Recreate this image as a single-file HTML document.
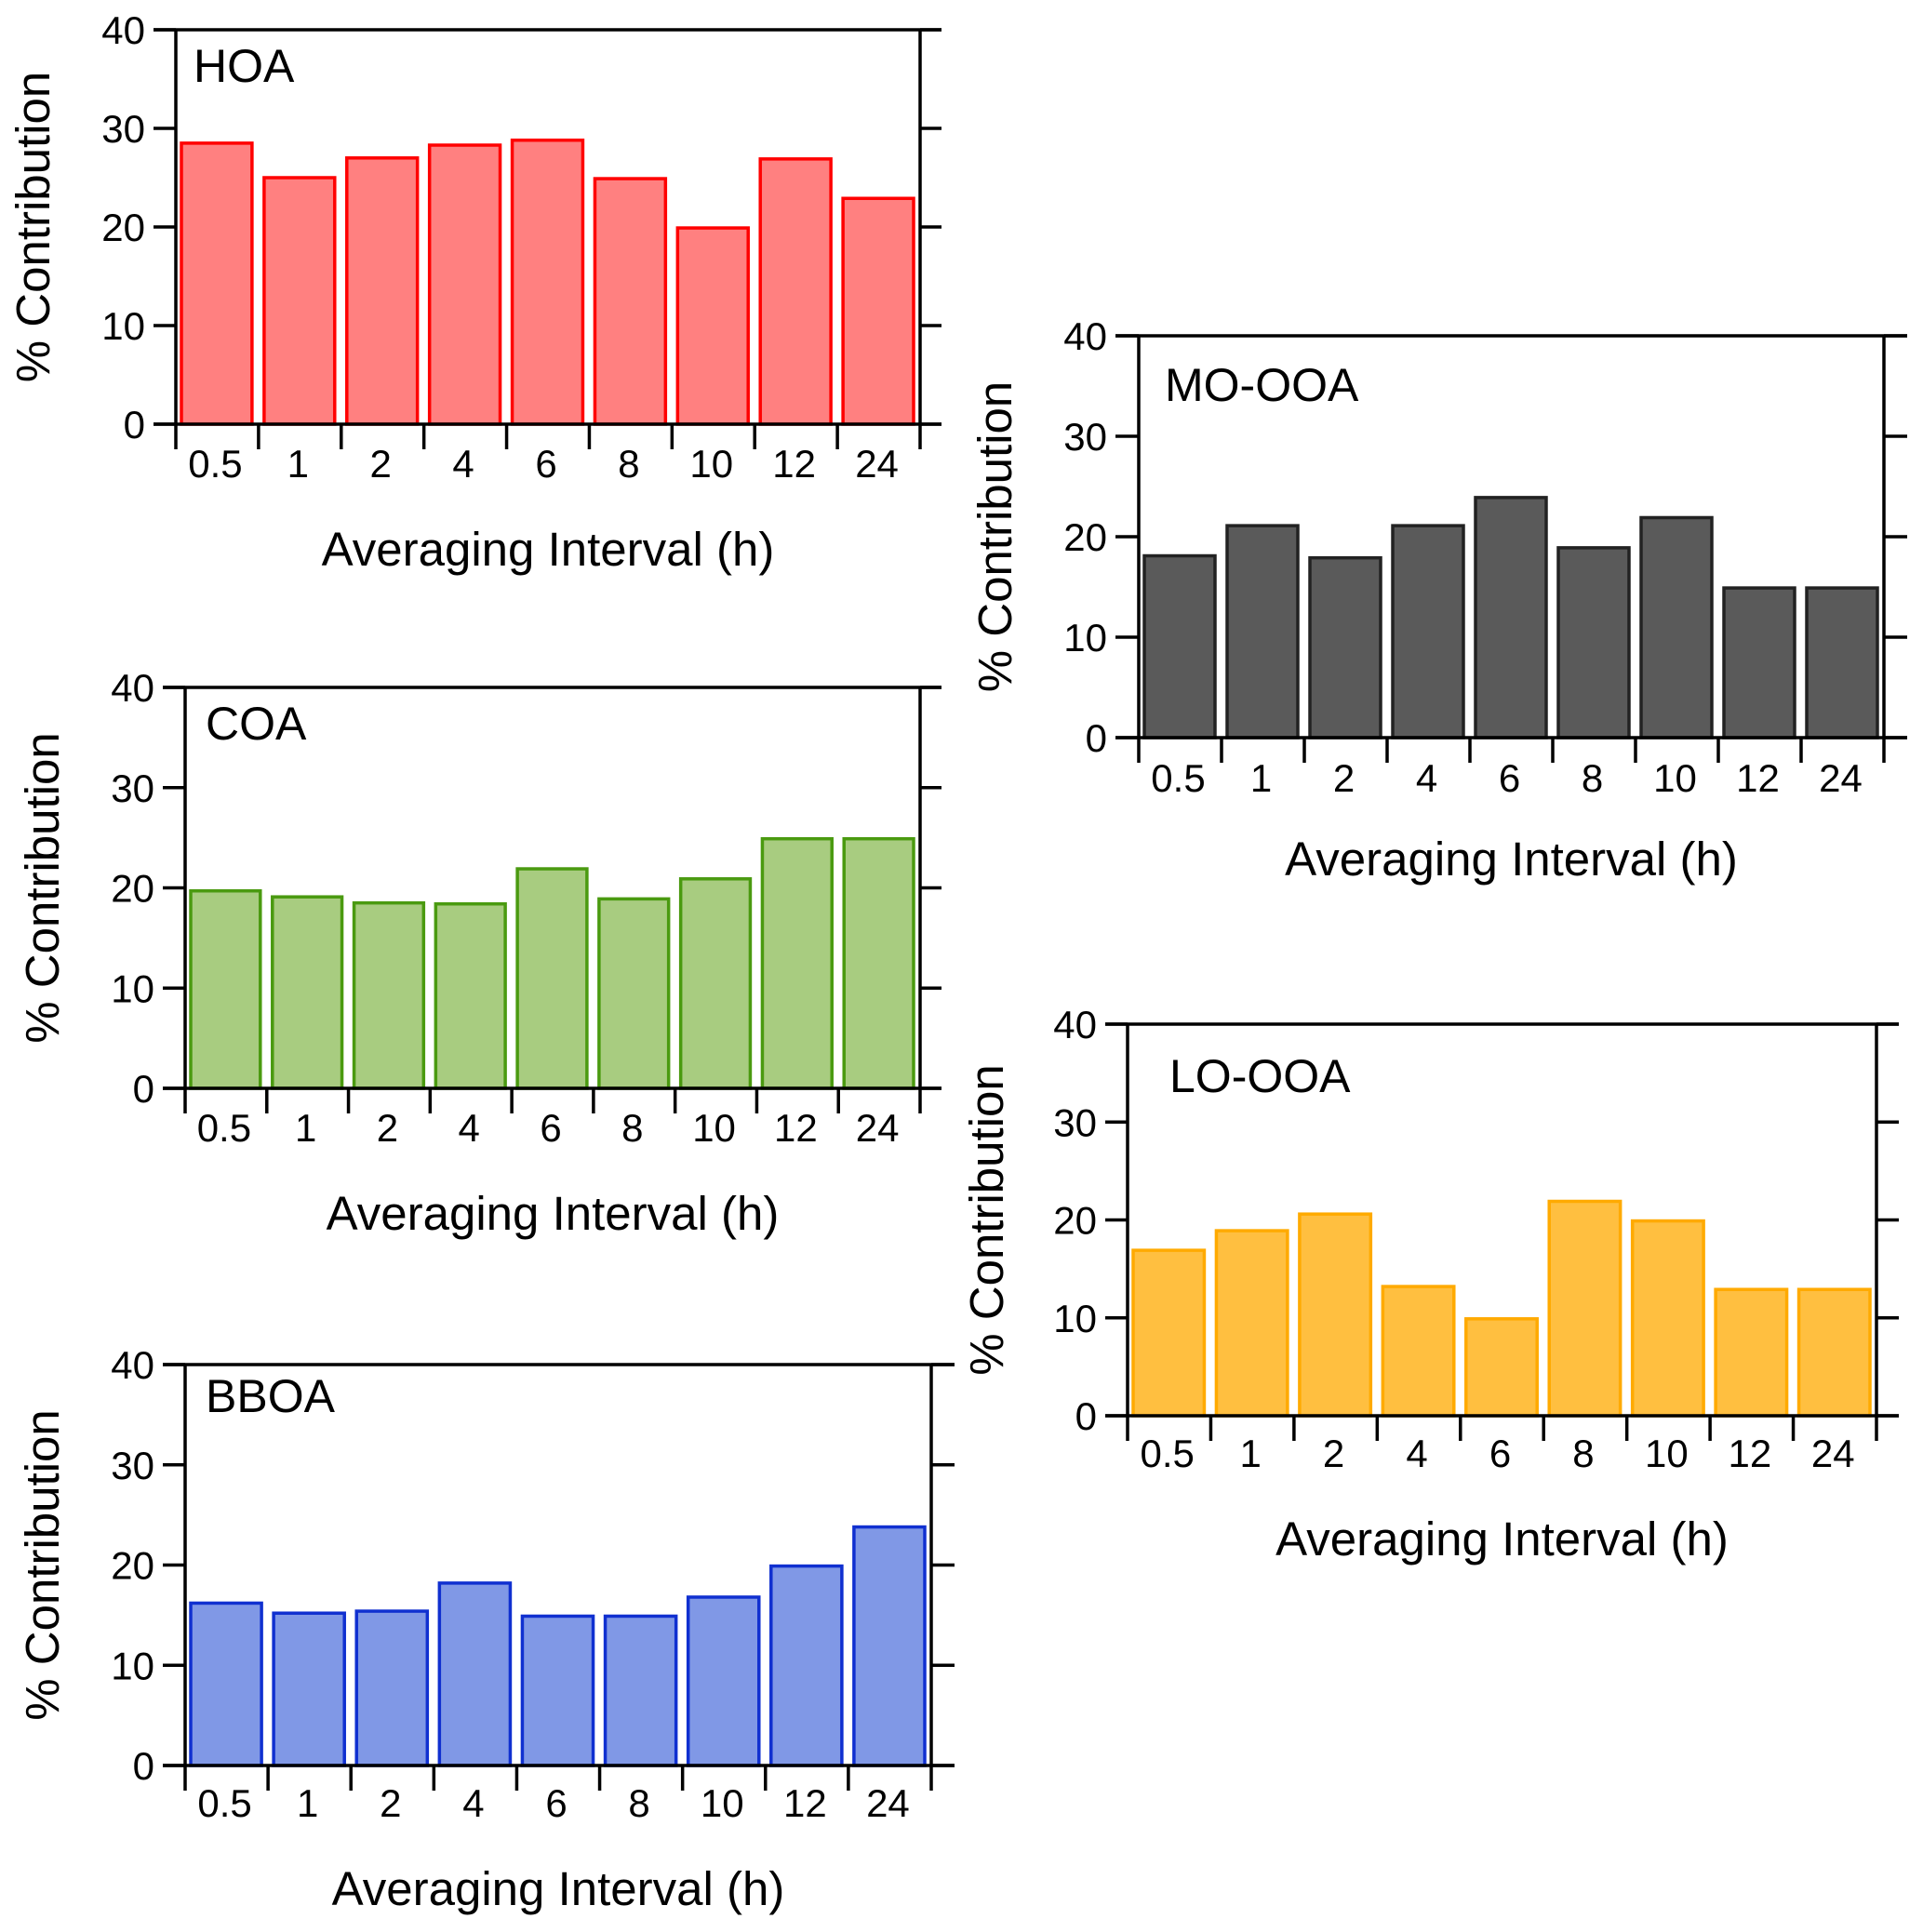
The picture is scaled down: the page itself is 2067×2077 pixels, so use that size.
<!DOCTYPE html>
<html><head><meta charset="utf-8">
<style>
html,body{margin:0;padding:0;background:#fff;}
svg{display:block;font-family:"Liberation Sans",Arial,sans-serif;}
</style></head>
<body>
<svg id="fig" width="2067" height="2077" viewBox="0 0 2067 2077" xmlns="http://www.w3.org/2000/svg"></svg>
<script>
const categories = ["0.5","1","2","4","6","8","10","12","24"];
const yTicks = [0,10,20,30,40];
const hoaValues = [28.5,25.0,27.0,28.3,28.8,24.9,19.9,26.9,22.9];
const mooaValues = [18.1,21.1,17.9,21.1,23.9,18.9,21.9,14.9,14.9];
const coaValues = [19.7,19.1,18.5,18.4,21.9,18.9,20.9,24.9,24.9];
const looaValues = [16.9,18.9,20.6,13.2,9.9,21.9,19.9,12.9,12.9];
const bboaValues = [16.2,15.2,15.4,18.2,14.9,14.9,16.8,19.9,23.8];

const NS = "http://www.w3.org/2000/svg";
const svg = document.getElementById('fig');
function mk(tag, attrs, parent){
  const e = document.createElementNS(NS, tag);
  for (const k in attrs) e.setAttribute(k, attrs[k]);
  (parent||svg).appendChild(e);
  return e;
}

const panels = [
  {name:"hoa", label:"HOA", values:hoaValues, fill:"#ff8080", stroke:"#ff0000",
   L:189, R:989, T:32, B:456, tickL:165, tickR:1012, lx:208, ly:70, yt:36, tickY:498, titleY:590},
  {name:"mo-ooa", label:"MO-OOA", values:mooaValues, fill:"#5a5a5a", stroke:"#222222",
   L:1224, R:2025, T:361, B:793, tickL:1199, tickR:2050, lx:1252, ly:413, yt:1070, tickY:836, titleY:923},
  {name:"coa", label:"COA", values:coaValues, fill:"#a8cc80", stroke:"#4a9a10",
   L:199, R:989, T:739, B:1170, tickL:175, tickR:1012, lx:221, ly:777, yt:46, tickY:1212, titleY:1304},
  {name:"lo-ooa", label:"LO-OOA", values:looaValues, fill:"#ffbf40", stroke:"#ffaa00",
   L:1212, R:2017, T:1101, B:1522, tickL:1188, tickR:2041, lx:1257, ly:1156, yt:1061, tickY:1562, titleY:1654},
  {name:"bboa", label:"BBOA", values:bboaValues, fill:"#8098e6", stroke:"#1030d0",
   L:199, R:1001, T:1467, B:1898, tickL:175, tickR:1026, lx:221, ly:1500, yt:46, tickY:1938, titleY:2030}
];

panels.forEach(p => {
  const g = mk('g', {});
  
  
  const n = categories.length;
  const slot = (p.R - p.L) / n;
  const y = v => p.B - (v / 40) * (p.B - p.T);
  const xs = i => p.L + i * slot;

  p.values.forEach((v, i) => {
    const r = mk('rect', {x: xs(i) + 6, y: y(v), width: slot - 13, height: p.B - y(v),
      fill: p.fill, stroke: p.stroke, 'stroke-width': 3.5}, g);
    
    
  });

  const ax = mk('g', {stroke:'#000', 'stroke-width':3.5, fill:'none'}, g);
  
  
  mk('line', {x1:p.tickL, y1:p.T, x2:p.tickR, y2:p.T}, ax);
  mk('line', {x1:p.tickL, y1:p.B, x2:p.tickR, y2:p.B}, ax);
  mk('line', {x1:p.L, y1:p.T, x2:p.L, y2:p.B + 27}, ax);
  mk('line', {x1:p.R, y1:p.T, x2:p.R, y2:p.B + 27}, ax);
  yTicks.forEach(t => {
    mk('line', {x1:p.tickL, y1:y(t), x2:p.L, y2:y(t)}, ax);
    mk('line', {x1:p.R, y1:y(t), x2:p.tickR, y2:y(t)}, ax);
    const tx = mk('text', {x:p.tickL - 9, y:y(t) + 15, 'text-anchor':'end', 'font-size':42, fill:'#000'}, g);
    tx.textContent = t;
    
    
  });
  for (let i = 1; i < n; i++) mk('line', {x1:xs(i), y1:p.B, x2:xs(i), y2:p.B + 27}, ax);
  categories.forEach((c, i) => {
    const tx = mk('text', {x: xs(i) + slot/2 - 2, y: p.tickY + 15, 'text-anchor':'middle', 'font-size':42, fill:'#000'}, g);
    tx.textContent = c;
    
    
  });
  const xt = mk('text', {x:(p.L + p.R)/2, y:p.titleY + 18, 'text-anchor':'middle', 'font-size':51, fill:'#000'}, g);
  xt.textContent = 'Averaging Interval (h)';
  
  
  const cy = (p.T + p.B) / 2;
  const ytt = mk('text', {x:p.yt + 17, y:cy, 'text-anchor':'middle', 'font-size':51, fill:'#000',
    transform:'rotate(-90 ' + (p.yt + 17) + ' ' + cy + ')'}, g);
  ytt.textContent = '% Contribution';
  
  
  const lb = mk('text', {x:p.lx, y:p.ly + 18, 'font-size':50, fill:'#000'}, g);
  lb.textContent = p.label;
  
  
});
</script>
</body></html>
